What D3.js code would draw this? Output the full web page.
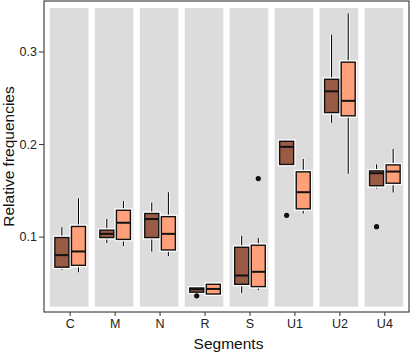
<!DOCTYPE html>
<html>
<head>
<meta charset="utf-8">
<script src="https://cdn.jsdelivr.net/npm/d3@7"></script>
<style>
  body { margin: 0; background: #fff; }
  text { font-family: "Liberation Sans", Arial, sans-serif; }
</style>
</head>
<body>
<div id="chart"></div>
<script>
// box stats per segment: [lower whisker, q1, median, q3, upper whisker]
const segments = ["C", "M", "N", "R", "S", "U1", "U2", "U4"];
const darkStats = [
  [0.064, 0.067, 0.080, 0.099, 0.110],
  [0.093, 0.099, 0.103, 0.107, 0.119],
  [0.084, 0.099, 0.119, 0.125, 0.137],
  [0.0395, 0.040, 0.0432, 0.0445, 0.045],
  [0.039, 0.0485, 0.058, 0.0885, 0.101],
  [0.177, 0.178, 0.197, 0.203, 0.2045],
  [0.223, 0.234, 0.257, 0.270, 0.318],
  [0.152, 0.155, 0.1685, 0.171, 0.178]
];
const lightStats = [
  [0.0615, 0.069, 0.084, 0.111, 0.1415],
  [0.090, 0.097, 0.115, 0.1285, 0.1386],
  [0.079, 0.0856, 0.103, 0.1216, 0.148],
  [0.0362, 0.038, 0.0435, 0.0485, 0.0507],
  [0.0424, 0.046, 0.062, 0.0907, 0.0986],
  [0.125, 0.130, 0.148, 0.170, 0.184],
  [0.168, 0.2305, 0.2467, 0.2885, 0.341],
  [0.1476, 0.1577, 0.1703, 0.1775, 0.1948]
];
// outliers: [segment, series, value]
const outliers = [
  ["R", "dark", 0.036],
  ["S", "light", 0.1627],
  ["U1", "dark", 0.123],
  ["U4", "dark", 0.1108]
];
const yTicks = [0.1, 0.2, 0.3];
const seriesColors = { dark: "#9a5b44", light: "#ffa07a" };

const width = 411, height = 355;
const margin = { top: 1, right: 2, bottom: 43, left: 44 };

const svg = d3.select("#chart").append("svg")
  .attr("width", width)
  .attr("height", height);

const x = d3.scaleBand()
  .domain(segments)
  .range([margin.left, width - margin.right])
  .paddingInner(0.141)
  .paddingOuter(0.13);

const y = d3.scaleLinear()
  .domain([0.0243, 0.347])
  .range([306.7, 8]);

const plotBottom = height - margin.bottom;

// gray panels
svg.append("g")
  .selectAll("rect")
  .data(segments)
  .join("rect")
    .attr("x", d => x(d))
    .attr("y", y.range()[1])
    .attr("width", x.bandwidth())
    .attr("height", y.range()[0] - y.range()[1])
    .attr("fill", "#dcdcdc");

const boxW = 14;
const offset = { dark: -8.3, light: 8.3 };

const boxes = [];
segments.forEach((s, i) => {
  boxes.push({ seg: s, series: "dark", v: darkStats[i] });
  boxes.push({ seg: s, series: "light", v: lightStats[i] });
});

const cx = d => x(d.seg) + x.bandwidth() / 2 + 1 + offset[d.series];

const g = svg.append("g");

// whiskers (white halo then black)
[["#fff", 3], ["#000", 1.1]].forEach(([col, w]) => {
  g.append("g")
    .selectAll("line")
    .data(boxes)
    .join("line")
      .attr("x1", cx).attr("x2", cx)
      .attr("y1", d => y(d.v[0]))
      .attr("y2", d => y(d.v[4]))
      .attr("stroke", col)
      .attr("stroke-width", w);
});

// box halo
g.append("g")
  .selectAll("rect")
  .data(boxes)
  .join("rect")
    .attr("x", d => cx(d) - boxW / 2)
    .attr("y", d => y(d.v[3]))
    .attr("width", boxW)
    .attr("height", d => y(d.v[1]) - y(d.v[3]))
    .attr("fill", "none")
    .attr("stroke", "#fff")
    .attr("stroke-width", 4);

g.append("g")
  .selectAll("rect")
  .data(boxes)
  .join("rect")
    .attr("x", d => cx(d) - boxW / 2)
    .attr("y", d => y(d.v[3]))
    .attr("width", boxW)
    .attr("height", d => y(d.v[1]) - y(d.v[3]))
    .attr("fill", d => seriesColors[d.series])
    .attr("stroke", "#111")
    .attr("stroke-width", 1.4);

// medians
g.append("g")
  .selectAll("line")
  .data(boxes)
  .join("line")
    .attr("x1", d => cx(d) - boxW / 2)
    .attr("x2", d => cx(d) + boxW / 2)
    .attr("y1", d => y(d.v[2]))
    .attr("y2", d => y(d.v[2]))
    .attr("stroke", "#111")
    .attr("stroke-width", 2);

// outliers
g.append("g")
  .selectAll("circle")
  .data(outliers)
  .join("circle")
    .attr("cx", d => cx({ seg: d[0], series: d[1] }))
    .attr("cy", d => y(d[2]))
    .attr("r", 2.6)
    .attr("fill", "#111");

// frame
svg.append("rect")
  .attr("x", margin.left)
  .attr("y", margin.top)
  .attr("width", width - margin.right - margin.left)
  .attr("height", plotBottom - margin.top)
  .attr("fill", "none")
  .attr("stroke", "#333")
  .attr("stroke-width", 1.1);

// axes
const xAxis = svg.append("g")
  .attr("transform", `translate(1,${plotBottom})`)
  .call(d3.axisBottom(x).tickSize(4).tickSizeOuter(0).tickPadding(3));
xAxis.select(".domain").remove();
xAxis.selectAll("text")
  .attr("font-size", 12.5)
  .attr("fill", "#222")
  .style("font-family", "Liberation Sans, Arial, sans-serif");
xAxis.selectAll(".tick line").attr("stroke", "#333");

const yAxis = svg.append("g")
  .attr("transform", `translate(${margin.left},0)`)
  .call(d3.axisLeft(y).tickValues(yTicks).tickFormat(d3.format(".1f")).tickSize(5).tickPadding(2));
yAxis.select(".domain").remove();
yAxis.selectAll("text")
  .attr("font-size", 12.5)
  .attr("fill", "#222")
  .style("font-family", "Liberation Sans, Arial, sans-serif");
yAxis.selectAll(".tick line").attr("stroke", "#333");

svg.append("text")
  .attr("x", (margin.left + width - margin.right) / 2 + 2)
  .attr("y", 349)
  .attr("text-anchor", "middle")
  .attr("font-size", 15.5)
  .attr("fill", "#111")
  .text("Segments");

svg.append("text")
  .attr("transform", `translate(14,${(margin.top + plotBottom) / 2}) rotate(-90)`)
  .attr("text-anchor", "middle")
  .attr("font-size", 15.5)
  .attr("fill", "#111")
  .text("Relative frequencies");
</script>
</body>
</html>
